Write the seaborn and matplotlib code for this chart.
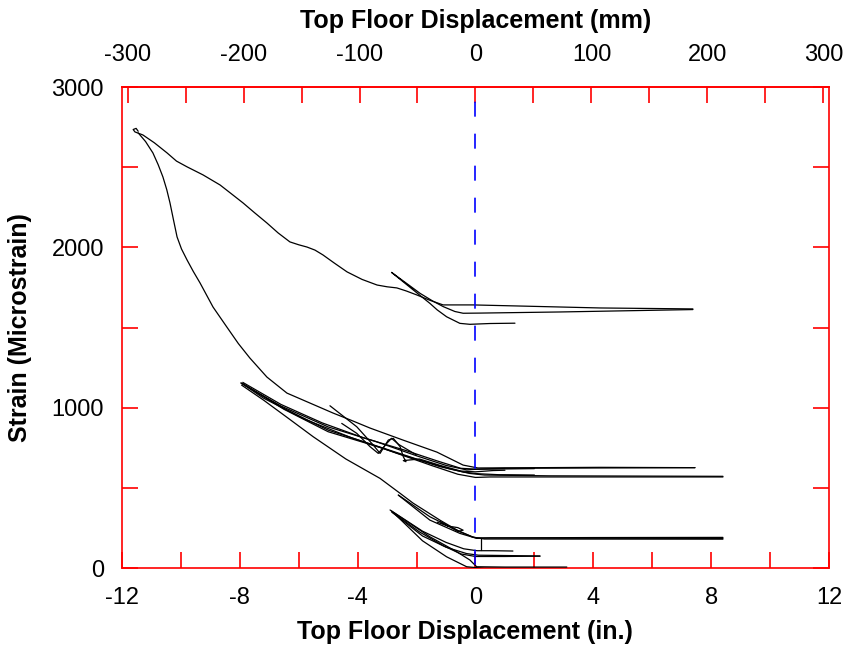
import matplotlib
matplotlib.use("Agg")
import matplotlib.pyplot as plt
from matplotlib.ticker import MultipleLocator, FixedLocator, NullFormatter
import numpy as np
import pandas as pd
import seaborn as sns

# Strain gauge record: top floor displacement (in.) vs. strain (microstrain)

# first small cycle (about -3 in.)
cycle1_disp = [1.34, 0.49, -0.19, -0.53, -0.98, -1.30, -1.55, -2.11, -2.85,
               -2.3, -1.88, -1.45, -1.09, -0.70, -0.42, 0.15, 2.87, 7.38]
cycle1_strain = [1527, 1525, 1520, 1526, 1567, 1610, 1651, 1734, 1844,
                 1770, 1713, 1665, 1630, 1600, 1589, 1590, 1597, 1612]

# large negative excursion: return along upper path to the peak
peak_up_disp = [7.38, 4.23, 1.51, -0.09, -0.60, -1.10, -1.55, -1.99, -2.35,
                -2.67, -3.00, -3.34, -3.85, -4.36, -4.80, -5.18, -5.45,
                -5.72, -6.00, -6.30, -6.70, -7.08, -7.50, -7.89, -8.30,
                -8.67, -9.25, -9.79, -10.15, -10.47, -10.90, -11.29, -11.56,
                -11.62, -11.52, -11.45]
peak_up_strain = [1616, 1622, 1634, 1641, 1641, 1641, 1670, 1703, 1728,
                  1747, 1754, 1765, 1800, 1847, 1903, 1953, 1983,
                  2002, 2016, 2034, 2090, 2152, 2216, 2277, 2336,
                  2389, 2452, 2502, 2538, 2589, 2652, 2701, 2720,
                  2735, 2742, 2724]

# unloading from the peak
peak_down_disp = [-11.45, -11.20, -10.95, -10.77, -10.61, -10.48, -10.37,
                  -10.25, -10.13, -9.98, -9.79, -9.58, -9.35, -8.91, -8.44,
                  -8.05, -7.66, -7.08, -6.40, -5.62, -4.84, -4.20, -3.58,
                  -2.46, -1.31, -0.42, 0.08, 4.23, 7.45]
peak_down_strain = [2714, 2660, 2589, 2515, 2439, 2360, 2277,
                    2170, 2065, 1990, 1921, 1850, 1778, 1628, 1503,
                    1400, 1310, 1191, 1091, 1029, 967, 920, 873,
                    798, 723, 642, 624, 628, 626]

# cycles between -8 in. and +8.4 in.
mid1_disp = [7.45, 4.2, 1.0, 0.2, -0.3, -1.0, -2.0, -3.4, -5.0, -6.6, -7.96]
mid1_strain = [626, 624, 622, 618, 612, 640, 700, 790, 880, 1010, 1154]

mid2_disp = [-7.96, -6.5, -5.0, -3.5, -2.0, -0.9, -0.2, 0.3, 2.5, 8.4]
mid2_strain = [1154, 995, 860, 770, 680, 620, 590, 580, 575, 572]

mid3_disp = [8.4, 4.0, 0.5, 0.0, -0.6, -1.5, -3.2, -5.0, -6.5, -7.9]
mid3_strain = [568, 568, 568, 565, 585, 640, 750, 850, 990, 1150]

mid4_disp = [-7.9, -6.6, -5.2, -3.8, -2.4, -1.3, -0.5, 0.1, 1.0, 2.0]
mid4_strain = [1158, 1020, 905, 812, 735, 668, 622, 616, 618, 620]

mid5_disp = [2.0, 0.8, 0.1, -0.4, -1.2, -2.6, -4.2, -5.8, -7.2, -7.9]
mid5_strain = [580, 582, 588, 598, 632, 712, 812, 928, 1060, 1148]

wave_disp = [-4.94, -4.03, -3.47, -3.24, -2.96, -2.79, -2.56, -2.45, -2.36,
             -2.45, -1.9, -1.2, -0.5, 0.0, 0.6, 1.0]
wave_strain = [1012, 881, 767, 715, 798, 809, 757, 694, 663,
               670, 680, 640, 605, 600, 608, 610]

wave2_disp = [-4.54, -4.03, -3.58, -3.30, -3.01, -2.85, -2.6, -2.0]
wave2_strain = [902, 840, 757, 715, 778, 809, 770, 705]

# drop from -8 in. into the small-amplitude cycles
drop_disp = [-7.94, -7.20, -6.40, -5.51, -4.40, -3.24, -2.56, -2.12, -1.21,
             -0.53, -0.09, 0.04, 3.0, 8.4]
drop_strain = [1141, 1048, 940, 819, 680, 559, 466, 405, 299,
               226, 193, 188, 186, 185]

# small-amplitude cycles near zero strain
low1_disp = [8.4, 4.0, 0.5, 0.04, -0.53, -1.55, -2.62]
low1_strain = [191, 190, 188, 185, 216, 299, 455]

low2_disp = [-2.62, -1.55, -0.64, -0.3, -0.09, 0.3, 8.4]
low2_strain = [455, 320, 237, 210, 193, 181, 180]

low3_disp = [-1.2, -0.6, -0.42, -0.6, -0.95, -1.3]
low3_strain = [290, 228, 236, 252, 262, 286]

low4_disp = [-2.90, -1.8, -1.0, -0.4, 0.05, 0.6, 1.27]
low4_strain = [362, 230, 160, 120, 108, 108, 106]

low5_disp = [2.19, 1.0, 0.1, -0.3, -1.0, -1.8, -2.85]
low5_strain = [75, 78, 80, 90, 130, 200, 350]

low6_disp = [-2.85, -1.55, -0.64, -0.19, 0.04, 1.0, 3.1]
low6_strain = [355, 195, 102, 50, 8, 6, 6]

low7_disp = [3.1, 1.5, 0.3, -0.30, -0.98, -1.8, -2.7]
low7_strain = [-4, -3, -2, 8, 70, 170, 330]

low8_disp = [-2.80, -1.9, -1.1, -0.5, 0.0, 1.0, 2.19]
low8_strain = [345, 225, 140, 88, 72, 72, 74]

low9_disp = [0.18, 0.18]
low9_strain = [185, 112]

traces = {
    "cycle1": (cycle1_disp, cycle1_strain),
    "peak_up": (peak_up_disp, peak_up_strain),
    "peak_down": (peak_down_disp, peak_down_strain),
    "mid1": (mid1_disp, mid1_strain),
    "mid2": (mid2_disp, mid2_strain),
    "mid3": (mid3_disp, mid3_strain),
    "mid4": (mid4_disp, mid4_strain),
    "mid5": (mid5_disp, mid5_strain),
    "wave": (wave_disp, wave_strain),
    "wave2": (wave2_disp, wave2_strain),
    "drop": (drop_disp, drop_strain),
    "low1": (low1_disp, low1_strain),
    "low2": (low2_disp, low2_strain),
    "low3": (low3_disp, low3_strain),
    "low4": (low4_disp, low4_strain),
    "low5": (low5_disp, low5_strain),
    "low6": (low6_disp, low6_strain),
    "low7": (low7_disp, low7_strain),
    "low8": (low8_disp, low8_strain),
    "low9": (low9_disp, low9_strain),
}

# top axis ticks (mm)
mm_major = [-300, -200, -100, 0, 100, 200, 300]
mm_minor = [-250, -150, -50, 50, 150, 250]

rows = []
for name, (xs, ys) in traces.items():
    for i, (xv, yv) in enumerate(zip(xs, ys)):
        rows.append({"trace": name, "order": i, "disp": xv, "strain": yv})
df = pd.DataFrame(rows)

sns.set_style("white")
plt.rcParams["font.family"] = ["Liberation Sans", "DejaVu Sans"]
plt.rcParams["axes.unicode_minus"] = False
plt.rcParams["text.color"] = "black"
plt.rcParams["axes.labelcolor"] = "black"

RED = "#FF0000"

fig = plt.figure(figsize=(8.5, 6.46), dpi=100)
ax = fig.add_axes([0.1435, 0.1207, 0.8318, 0.7446])

sns.lineplot(data=df, x="disp", y="strain", units="trace", estimator=None,
             sort=False, color="black", linewidth=0.9, ax=ax, legend=False)
for ln in ax.get_lines():
    ln.set_zorder(2.6)

# zero-displacement reference
ax.axvline(0, color="#0000FF", linewidth=1.2, linestyle=(17.2, (9, 10.2)),
           zorder=3)

ax.set_xlim(-12, 12)
ax.set_ylim(0, 3000)
ax.xaxis.set_major_locator(MultipleLocator(4))
ax.xaxis.set_minor_locator(MultipleLocator(2))
ax.yaxis.set_major_locator(MultipleLocator(1000))
ax.yaxis.set_minor_locator(MultipleLocator(500))
ax.yaxis.set_minor_formatter(NullFormatter())
ax.xaxis.set_minor_formatter(NullFormatter())

for sp in ax.spines.values():
    sp.set_color(RED)
    sp.set_linewidth(1.2)

ax.tick_params(axis="both", which="both", direction="in", length=11.5,
               width=1.2, color=RED, labelcolor="black", labelsize=17)
ax.tick_params(axis="x", which="both", top=False, bottom=True, pad=14)
ax.tick_params(axis="y", which="both", left=True, right=True,
               labelright=False, pad=13)

ax.set_xlabel("Top Floor Displacement (in.)", fontsize=18, fontweight="bold",
              color="black")
ax.xaxis.label.set_va("center")
ax.xaxis.set_label_coords(0.485, -0.133)
ax.set_ylabel("Strain (Microstrain)", fontsize=18, fontweight="bold",
              color="black")
ax.yaxis.label.set_va("center")
ax.yaxis.set_label_coords(-0.144, 0.5)

# top axis in millimetres
sec = ax.secondary_xaxis("top", functions=(lambda v: v * 25.4,
                                            lambda v: v / 25.4))
sec.xaxis.set_major_locator(FixedLocator(mm_major))
sec.xaxis.set_minor_locator(FixedLocator(mm_minor))
sec.xaxis.set_minor_formatter(NullFormatter())
sec.tick_params(axis="x", which="both", direction="in", length=11.5,
                width=1.2, color=RED, labelcolor="black", labelsize=17,
                pad=15)
sec.spines["top"].set_color(RED)
sec.spines["top"].set_linewidth(1.2)
ax.text(0.5, 1.137, "Top Floor Displacement (mm)", transform=ax.transAxes,
        ha="center", va="center", fontsize=18, fontweight="bold",
        color="black")

fig.savefig("out.png", dpi=100, facecolor="white")
